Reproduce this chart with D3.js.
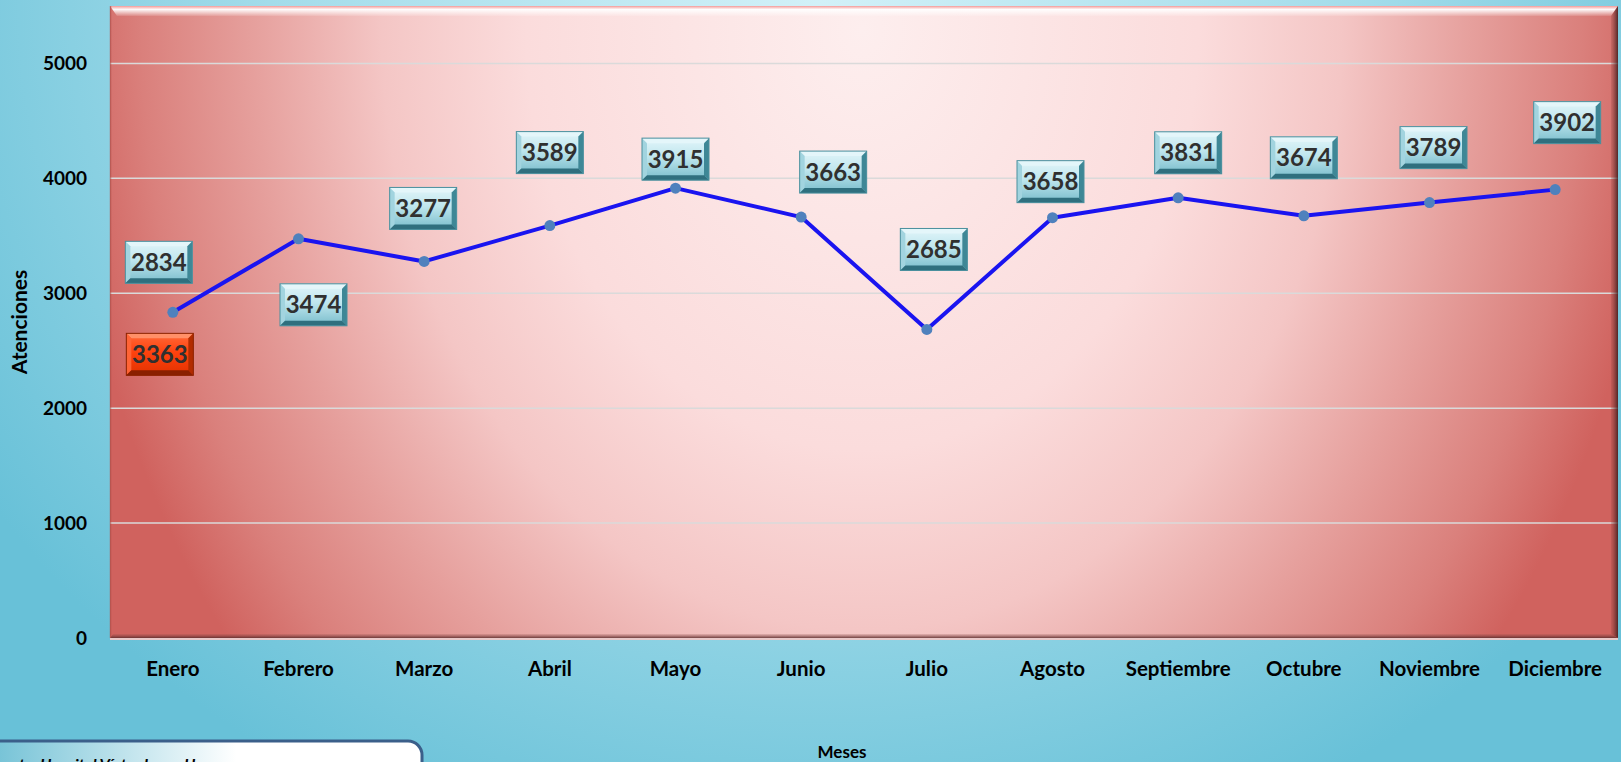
<!DOCTYPE html>
<html>
<head>
<meta charset="utf-8">
<title>Atenciones por mes</title>
<style>
  html, body { margin: 0; padding: 0; overflow: hidden; }
  svg { display: block; font-family: Lato, "Open Sans", sans-serif; }
</style>
</head>
<body>
<script src="https://cdn.jsdelivr.net/npm/d3@7"></script>
<script>
// chart data
var months = ["Enero", "Febrero", "Marzo", "Abril", "Mayo", "Junio", "Julio",
              "Agosto", "Septiembre", "Octubre", "Noviembre", "Diciembre"];
var atenciones = [2834, 3474, 3277, 3589, 3915, 3663, 2685, 3658, 3831, 3674, 3789, 3902];
var extraLabel = [3363];          // red label shown under Enero
var yTicks = [0, 1000, 2000, 3000, 4000, 5000];

// label placement (pixels from the point), the labels were moved by hand in the original
var labelShift = [[-14, -50], [15, 66], [-1, -53], [0, -73], [0, -29], [32, -45],
                  [7, -80], [-2, -36], [10, -45], [0, -58], [4, -55], [12, -67]];
var extraShift = [-13, 42];

var W = 1621, H = 762;
var pL = 110, pR = 1618, pT = 6, pB = 638;

var svg = d3.select("body").append("svg").attr("width", W).attr("height", H);
var defs = svg.append("defs");

// page background
var bg = defs.append("radialGradient").attr("id", "bg")
    .attr("gradientUnits", "userSpaceOnUse")
    .attr("cx", 0).attr("cy", 0).attr("r", 1)
    .attr("gradientTransform", "translate(820,0) scale(1000,900)");
bg.append("stop").attr("offset", 0).attr("stop-color", "#d2f1f8");
bg.append("stop").attr("offset", 0.55).attr("stop-color", "#a3dcea");
bg.append("stop").attr("offset", 1).attr("stop-color", "#68c1d8");
svg.append("rect").attr("width", W).attr("height", H).attr("fill", "url(#bg)");

// plot area fill
var pg = defs.append("radialGradient").attr("id", "plotbg")
    .attr("gradientUnits", "userSpaceOnUse")
    .attr("cx", 0).attr("cy", 0).attr("r", 1)
    .attr("gradientTransform", "translate(862,30) scale(800,1000)");
pg.append("stop").attr("offset", 0).attr("stop-color", "#fdeeee");
pg.append("stop").attr("offset", 0.42).attr("stop-color", "#fbdcdc");
pg.append("stop").attr("offset", 0.6).attr("stop-color", "#f4c6c5");
pg.append("stop").attr("offset", 0.76).attr("stop-color", "#e6a09d");
pg.append("stop").attr("offset", 0.9).attr("stop-color", "#da807c");
pg.append("stop").attr("offset", 1).attr("stop-color", "#d0625e");
svg.append("rect").attr("x", pL).attr("y", pT)
    .attr("width", pR - pL).attr("height", pB - pT)
    .attr("fill", "url(#plotbg)");

var x = d3.scaleBand().domain(months).range([pL, pR]);
var y = d3.scaleLinear().domain([0, 5500]).range([pB, pT]);
var cx = function (m) { return x(m) + x.bandwidth() / 2; };

// gridlines
svg.append("g").selectAll("line")
    .data(yTicks.filter(function (d) { return d > 0; }))
    .enter().append("line")
    .attr("x1", pL).attr("x2", pR)
    .attr("y1", function (d) { return y(d); }).attr("y2", function (d) { return y(d); })
    .attr("stroke", "#dadada").attr("stroke-width", 1.5);

// bevel around the plot area
var b = 7;
var tg = defs.append("linearGradient").attr("id", "topbev").attr("x1", 0).attr("y1", 0).attr("x2", 0).attr("y2", 1);
tg.append("stop").attr("offset", 0).attr("stop-color", "#f39a98");
tg.append("stop").attr("offset", 0.35).attr("stop-color", "#ffffff").attr("stop-opacity", 0.95);
tg.append("stop").attr("offset", 1).attr("stop-color", "#ffffff").attr("stop-opacity", 0.1);
svg.append("polygon")
    .attr("points", [[pL, pT], [pR, pT], [pR - b, pT + b + 3], [pL + b, pT + b + 3]].join(" "))
    .attr("fill", "url(#topbev)");
var rg = defs.append("linearGradient").attr("id", "rbev").attr("x1", 0).attr("y1", 0).attr("x2", 1).attr("y2", 0);
rg.append("stop").attr("offset", 0).attr("stop-color", "#8a3a38").attr("stop-opacity", 0.2);
rg.append("stop").attr("offset", 1).attr("stop-color", "#3a1a1a").attr("stop-opacity", 0.85);
svg.append("polygon")
    .attr("points", [[pR, pT], [pR, pB], [pR - b, pB - b + 3], [pR - b, pT + b + 3]].join(" "))
    .attr("fill", "url(#rbev)");
var btg = defs.append("linearGradient").attr("id", "bbev").attr("x1", 0).attr("y1", 0).attr("x2", 0).attr("y2", 1);
btg.append("stop").attr("offset", 0).attr("stop-color", "#8a4a48").attr("stop-opacity", 0.15);
btg.append("stop").attr("offset", 1).attr("stop-color", "#5a2a2a").attr("stop-opacity", 0.85);
svg.append("polygon")
    .attr("points", [[pL, pB], [pR, pB], [pR - b, pB - 4], [pL + 3, pB - 4]].join(" "))
    .attr("fill", "url(#bbev)");
svg.append("line").attr("x1", pL).attr("x2", pR).attr("y1", pB + 1).attr("y2", pB + 1)
    .attr("stroke", "#e8c8c8").attr("stroke-width", 2);
svg.append("line").attr("x1", pL + 0.5).attr("x2", pL + 0.5).attr("y1", pT).attr("y2", pB)
    .attr("stroke", "#a84c48").attr("stroke-opacity", 0.6).attr("stroke-width", 1.5);

// axes
var yAxis = svg.append("g").attr("transform", "translate(" + pL + ",0)")
    .call(d3.axisLeft(y).tickValues(yTicks).tickSize(0).tickPadding(23).tickFormat(d3.format("d")));
yAxis.select(".domain").remove();
yAxis.selectAll("text").attr("font-size", 19).attr("font-weight", "bold")
    .attr("font-family", "Lato").attr("fill", "#000");

var xAxis = svg.append("g").attr("transform", "translate(0," + pB + ")")
    .call(d3.axisBottom(x).tickSize(0).tickPadding(23));
xAxis.select(".domain").remove();
xAxis.selectAll("text").attr("font-size", 20.5).attr("font-weight", "bold")
    .attr("font-family", "Lato").attr("fill", "#000");

svg.append("text").text("Atenciones")
    .attr("transform", "translate(27,322) rotate(-90)")
    .attr("text-anchor", "middle").attr("font-size", 21).attr("font-weight", "bold").attr("fill", "#000");

svg.append("text").text("Meses")
    .attr("x", 842).attr("y", 758)
    .attr("text-anchor", "middle").attr("font-size", 17).attr("font-weight", "bold").attr("fill", "#000");

// line and markers
var line = d3.line()
    .x(function (d, i) { return cx(months[i]); })
    .y(function (d) { return y(d); });
svg.append("path").datum(atenciones)
    .attr("d", line).attr("fill", "none")
    .attr("stroke", "#1a14f0").attr("stroke-width", 4).attr("stroke-linejoin", "round");
svg.append("g").selectAll("circle").data(atenciones).enter().append("circle")
    .attr("cx", function (d, i) { return cx(months[i]); })
    .attr("cy", function (d) { return y(d); })
    .attr("r", 5.5).attr("fill", "#4f81bd");

// beveled label boxes
function faceGrad(id, c0, c1, c2) {
    var g = defs.append("linearGradient").attr("id", id).attr("x1", 0).attr("y1", 0).attr("x2", 0).attr("y2", 1);
    g.append("stop").attr("offset", 0).attr("stop-color", c0);
    g.append("stop").attr("offset", 0.45).attr("stop-color", c1);
    g.append("stop").attr("offset", 1).attr("stop-color", c2);
}
faceGrad("tealFace", "#e2f5f9", "#bfe6ee", "#78bccb");
faceGrad("redFace", "#ff6a3a", "#ff420e", "#e23200");
var teal = { face: "tealFace", top: "#e4f6fa", left: "#a2d4df", right: "#3e8796", bottom: "#2f6f7e", edge: "#4a8f9d" };
var red = { face: "redFace", top: "#ff9068", left: "#ff6436", right: "#b22c00", bottom: "#8a2000", edge: "#8a2200" };

var bw = 67, bh = 42, bv = 5;
function drawLabel(g, value, px, py, st) {
    var x0 = px - bw / 2, x1 = px + bw / 2, y0 = py - bh / 2, y1 = py + bh / 2;
    g.append("rect").attr("x", x0).attr("y", y0).attr("width", bw).attr("height", bh)
        .attr("fill", "url(#" + st.face + ")");
    g.append("polygon").attr("points", [[x0, y0], [x1, y0], [x1 - bv, y0 + bv], [x0 + bv, y0 + bv]].join(" "))
        .attr("fill", st.top);
    g.append("polygon").attr("points", [[x0, y0], [x0 + bv, y0 + bv], [x0 + bv, y1 - bv], [x0, y1]].join(" "))
        .attr("fill", st.left);
    g.append("polygon").attr("points", [[x1, y0], [x1, y1], [x1 - bv, y1 - bv], [x1 - bv, y0 + bv]].join(" "))
        .attr("fill", st.right);
    g.append("polygon").attr("points", [[x0, y1], [x0 + bv, y1 - bv], [x1 - bv, y1 - bv], [x1, y1]].join(" "))
        .attr("fill", st.bottom);
    g.append("rect").attr("x", x0).attr("y", y0).attr("width", bw).attr("height", bh)
        .attr("fill", "none").attr("stroke", st.edge).attr("stroke-width", 1);
    g.append("text").text(value)
        .attr("x", px).attr("y", py + 8.5)
        .attr("text-anchor", "middle").attr("font-size", 24).attr("font-weight", "bold")
        .attr("fill", "#303030");
}

var labels = svg.append("g");
atenciones.forEach(function (v, i) {
    drawLabel(labels.append("g"), v,
        cx(months[i]) + labelShift[i][0], y(v) + labelShift[i][1], teal);
});
extraLabel.forEach(function (v, i) {
    drawLabel(labels.append("g"), v,
        cx(months[i]) + extraShift[0], y(atenciones[i]) + extraShift[1], red);
});

// source box at the bottom left (cut by the page edge)
var sg = defs.append("linearGradient").attr("id", "srcbg").attr("x1", 0).attr("y1", 0).attr("x2", 1).attr("y2", 0);
sg.append("stop").attr("offset", 0).attr("stop-color", "#6dbfd4");
sg.append("stop").attr("offset", 0.58).attr("stop-color", "#ffffff");
sg.append("stop").attr("offset", 1).attr("stop-color", "#ffffff");
svg.append("rect").attr("x", -20).attr("y", 741).attr("width", 442).attr("height", 60)
    .attr("rx", 14).attr("fill", "url(#srcbg)")
    .attr("stroke", "#3b5f8a").attr("stroke-width", 3);
svg.append("text").text("Fuente: Hospital Víctor Larco Herrera")
    .attr("x", -14).attr("y", 770)
    .attr("font-size", 16).attr("font-weight", "bold").attr("font-style", "italic").attr("fill", "#000");
</script>
</body>
</html>
